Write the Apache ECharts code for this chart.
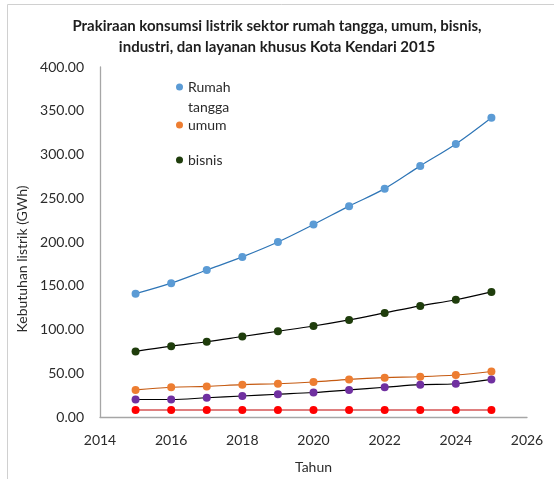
<!DOCTYPE html>
<html>
<head>
<meta charset="utf-8">
<script src="https://cdn.jsdelivr.net/npm/echarts@6/dist/echarts.min.js"></script>
<style>
html,body{margin:0;padding:0;background:#fff;}
#chart{width:554px;height:479px;}
</style>
</head>
<body>
<div id="chart"></div>
<script>
var titleLines = ['Prakiraan konsumsi listrik sektor rumah tangga, umum, bisnis,', 'industri, dan layanan khusus Kota Kendari 2015'];
var years = [2015, 2016, 2017, 2018, 2019, 2020, 2021, 2022, 2023, 2024, 2025];
var rumahTangga = [141, 153, 168, 183, 200, 220, 241, 261, 287, 312, 342];
var umum = [31, 34, 35, 37, 38, 40, 43, 45, 46, 48, 52];
var bisnis = [75, 81, 86, 92, 98, 104, 111, 119, 127, 134, 143];
var industri = [20, 20, 22, 24, 26, 28, 31, 34, 37, 38, 43];
var layananKhusus = [8, 8, 8, 8, 8, 8, 8, 8, 8, 8, 8];
var seriesNames = ['Rumah tangga', 'umum', 'bisnis', 'industri', 'layanan khusus'];
var xTicks = [2014, 2016, 2018, 2020, 2022, 2024, 2026];
var yTicks = [0, 50, 100, 150, 200, 250, 300, 350, 400];

function pairs(vals) { return years.map(function (y, i) { return [y, vals[i]]; }); }

var FONT = 'Lato';
var TXT = '#2b2b2b';
var markerColors = ['#5B9BD5', '#ED7D31', '#1F3D0C', '#7030A0', '#FF0000'];
var lineColors = ['#2E75B6', '#C55A11', '#000000', '#000000', '#C00000'];
var allVals = [rumahTangga, umum, bisnis, industri, layananKhusus];

var chart = echarts.init(document.getElementById('chart'), null, {renderer: 'canvas'});

var series = seriesNames.map(function (name, k) {
  return {
    name: name,
    type: 'line',
    data: pairs(allVals[k]),
    smooth: 0.35,
    symbol: 'circle',
    symbolSize: 8,
    showSymbol: true,
    itemStyle: {color: markerColors[k]},
    lineStyle: {color: lineColors[k], width: 1.2},
    emphasis: {disabled: true},
    animation: false,
    z: 2 + k
  };
});

function legendFor(name, top, extra) {
  var l = {
    data: [{name: name, icon: 'circle'}],
    left: 176,
    top: top,
    padding: 0,
    itemWidth: 7,
    itemHeight: 7,
    selectedMode: false,
    textStyle: {fontFamily: FONT, fontSize: 14, color: TXT, lineHeight: 18}
  };
  if (extra) { for (var k in extra) l[k] = extra[k]; }
  return l;
}

chart.setOption({
  animation: false,
  backgroundColor: '#ffffff',
  graphic: [{
    type: 'rect',
    shape: {x: 7.5, y: 4.5, width: 600, height: 600},
    style: {fill: 'none', stroke: '#d0d0d0', lineWidth: 1},
    silent: true
  }],
  title: {
    text: titleLines.join('\n'),
    left: 'center',
    top: 16,
    padding: [0, 0, 0, 8],
    textStyle: {fontFamily: FONT, fontSize: 15, fontWeight: 'bold', color: '#1e1e1e', lineHeight: 21}
  },
  legend: [
    legendFor(seriesNames[0], 57, {
      formatter: function () { return '\nRumah\ntangga'; },
      textStyle: {fontFamily: FONT, fontSize: 14, color: TXT, lineHeight: 20}
    }),
    legendFor(seriesNames[1], 116),
    legendFor(seriesNames[2], 151)
  ],
  grid: {left: 100, right: 27, top: 67, bottom: 58, containLabel: false},
  xAxis: {
    type: 'value',
    min: xTicks[0],
    max: xTicks[xTicks.length - 1],
    interval: 2,
    name: 'Tahun',
    nameLocation: 'middle',
    nameGap: 43,
    nameTextStyle: {fontFamily: FONT, fontSize: 14, color: TXT},
    axisLine: {lineStyle: {color: '#A6A6A6', width: 1.3}},
    axisTick: {show: false},
    splitLine: {show: false},
    axisLabel: {fontFamily: FONT, fontSize: 14, color: TXT, margin: 16, formatter: function (v) { return String(v); }}
  },
  yAxis: {
    type: 'value',
    min: yTicks[0],
    max: yTicks[yTicks.length - 1],
    interval: 50,
    name: 'Kebutuhan listrik (GWh)',
    nameLocation: 'middle',
    nameGap: 70,
    nameTextStyle: {fontFamily: FONT, fontSize: 14, color: TXT, padding: [0, 34, 0, 0]},
    axisLine: {show: true, lineStyle: {color: '#A6A6A6', width: 1.3}},
    axisTick: {show: false},
    splitLine: {show: false},
    axisLabel: {fontFamily: FONT, fontSize: 14, color: TXT, margin: 16, formatter: function (v) { return v.toFixed(2); }}
  },
  series: series
});
</script>
</body>
</html>
